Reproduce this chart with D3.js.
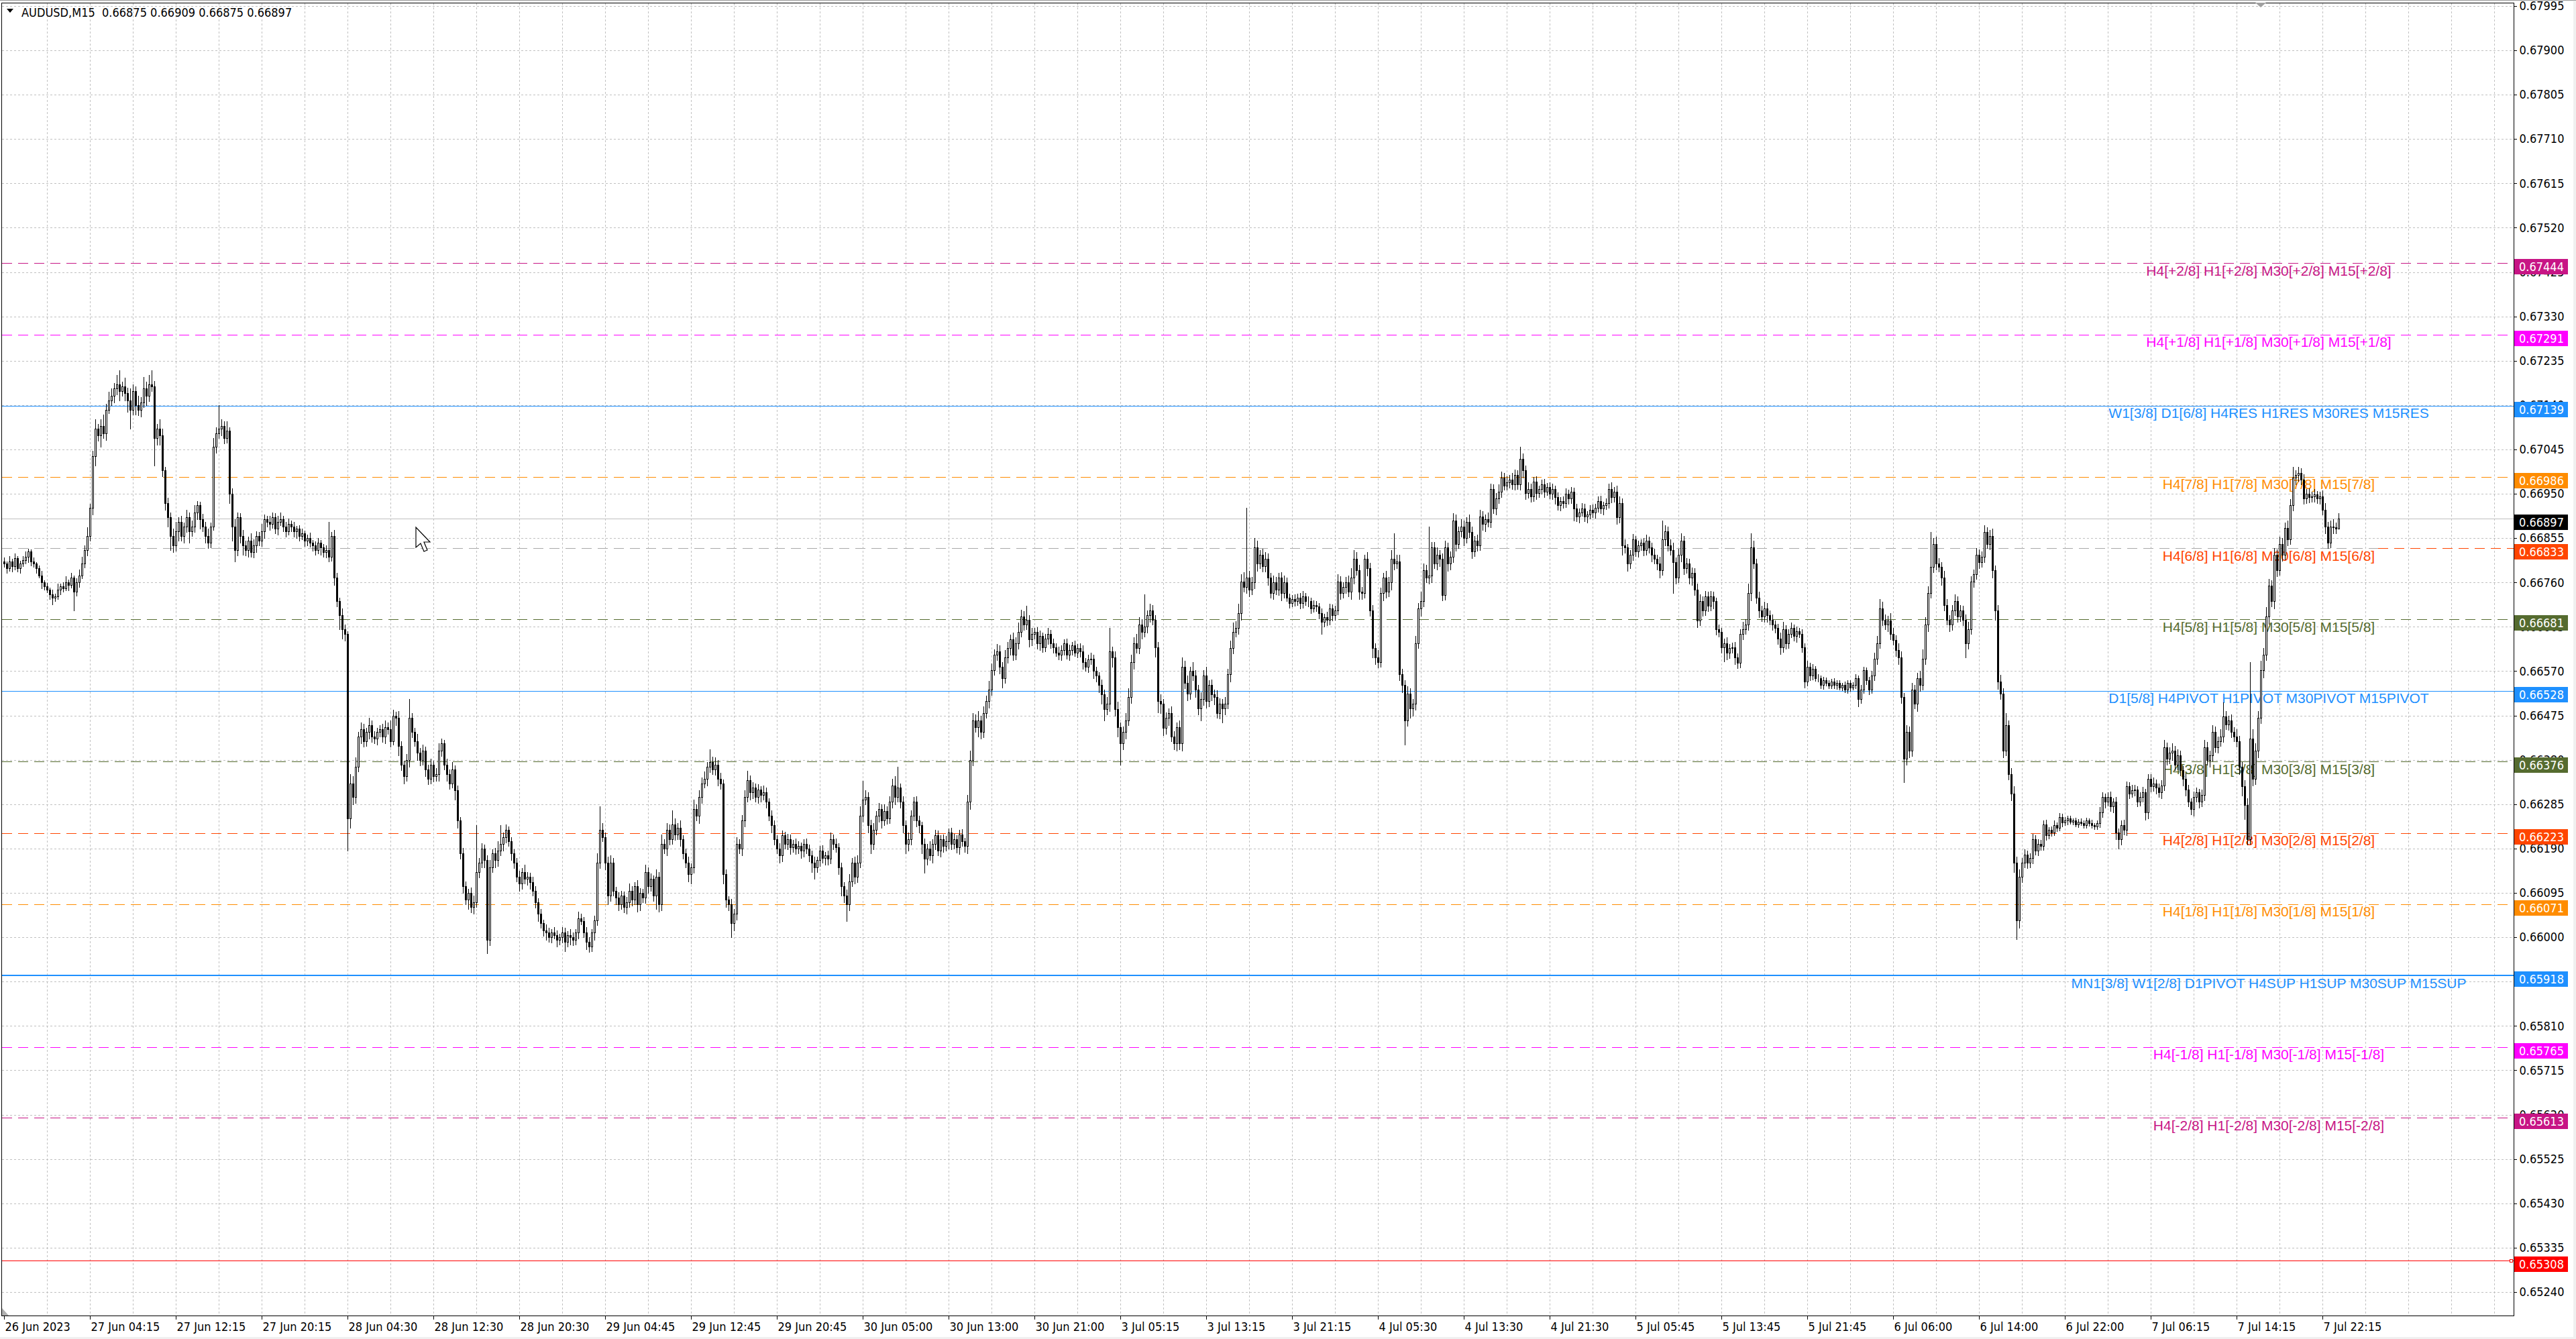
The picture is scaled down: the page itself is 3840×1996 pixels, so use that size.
<!DOCTYPE html>
<html lang="en">
<head>
<meta charset="UTF-8">
<title>AUDUSD,M15</title>
<script src="https://cdn.jsdelivr.net/npm/d3@7"></script>
<style>
  html, body { margin: 0; padding: 0; background: #f0f0f0; overflow: hidden; }
  svg { display: block; }
</style>
</head>
<body>
<svg id="chart" width="3840" height="1996"></svg>
<script>
// ---- data (prices in 1e-5 steps above 0.66000) ----
const symbolTitle = "AUDUSD,M15  0.66875 0.66909 0.66875 0.66897";
const firstOpen = 805;

const closes = [
  800, 790, 805, 795, 812, 790, 800, 808, 815, 826,
  805, 800, 790, 775, 760, 752, 745, 735, 728, 730,
  745, 752, 748, 760, 755, 770, 740, 760, 775, 800,
  830, 860, 920, 1030, 1090, 1075, 1095, 1080, 1130, 1150,
  1160, 1175, 1185, 1170, 1180, 1165, 1150, 1130, 1170, 1140,
  1130, 1145, 1175, 1160, 1185, 1180, 1070, 1090, 1075, 1000,
  930, 900, 860, 840, 870, 890, 860, 880, 900, 870,
  880, 910, 925, 895, 880, 860, 845, 880, 1050, 1080,
  1090, 1095, 1070, 1085, 950, 880, 830, 900, 860, 840,
  830, 850, 825, 840, 860, 850, 870, 895, 890, 885,
  900, 875, 890, 895, 880, 870, 885, 880, 870, 875,
  860, 865, 850, 855, 845, 840, 830, 845, 835, 825,
  830, 815, 860, 770, 720, 690, 660, 650, 255, 330,
  300, 365, 430, 445, 420, 440, 455, 430, 425, 440,
  445, 430, 450, 445, 420, 475, 470, 410, 370, 345,
  380, 470, 440, 420, 395, 380, 400, 360, 340, 370,
  345, 350, 400, 415, 370, 350, 330, 360, 315, 250,
  180, 110, 80, 95, 65, 75, 140, 160, 190, 165,
  -5, 150, 180, 165, 185, 200, 215, 230, 205, 180,
  160, 130, 115, 140, 125, 130, 118, 100, 75, 50,
  30, 15, 10, 0, 10, 5, -5, 0, 10, -10,
  5, 0, -5, 10, 40, 35, 10, -10, -20, 10,
  36, 160, 230, 215, 160, 90, 160, 100, 85, 70,
  90, 65, 75, 100, 80, 110, 70, 95, 85, 140,
  110, 125, 90, 130, 70, 200, 190, 230, 210, 242,
  220, 235, 210, 180, 160, 135, 150, 275, 260, 300,
  330, 340, 365, 375, 360, 370, 340, 330, 135, 80,
  70, 30, 50, 200, 190, 250, 300, 337, 310, 320,
  300, 316, 305, 310, 290, 260, 240, 210, 190, 175,
  218, 200, 210, 193, 200, 190, 195, 185, 200, 190,
  175, 160, 150, 165, 185, 170, 175, 168, 210, 200,
  193, 150, 110, 90, 70, 120, 160, 130, 160, 260,
  295, 300, 240, 200, 230, 260, 275, 250, 270, 255,
  290, 325, 300, 320, 290, 240, 200, 210, 260, 290,
  250, 240, 200, 168, 190, 175, 200, 218, 185, 210,
  195, 205, 225, 200, 210, 193, 220, 205, 195, 290,
  380, 465, 450, 465, 440, 480, 506, 531, 572, 605,
  613, 580, 555, 600, 620, 638, 605, 630, 654, 687,
  670, 680, 638, 650, 654, 630, 645, 621, 640, 650,
  630, 621, 610, 605, 615, 630, 605, 615, 625, 610,
  620, 613, 590, 580, 595, 597, 570, 560, 540, 520,
  489, 500, 613, 600, 489, 450, 415, 440, 465, 514,
  590, 630, 620, 670, 654, 665, 690, 700, 680, 621,
  506, 500, 448, 470, 480, 430, 415, 450, 415, 580,
  545, 522, 570, 560, 530, 490, 510, 560, 506, 540,
  520, 514, 480, 500, 490, 500, 563, 620, 654, 662,
  695, 762, 750, 770, 745, 760, 835, 800, 820, 795,
  810, 770, 737, 760, 745, 770, 737, 760, 728, 716,
  725, 720, 728, 716, 730, 720, 720, 705, 712, 708,
  695, 675, 685, 680, 705, 690, 700, 762, 737, 750,
  760, 740, 770, 810, 786, 740, 737, 810, 790, 700,
  620, 600, 590, 737, 770, 740, 760, 810, 800, 805,
  563, 540, 465, 522, 490, 500, 630, 704, 720, 786,
  770, 775, 835, 800, 820, 810, 733, 835, 800, 815,
  893, 843, 870, 880, 855, 890, 868, 827, 850, 840,
  901, 885, 895, 890, 960, 918, 940, 955, 985, 968,
  975, 980, 970, 990, 970, 1025, 1000, 951, 960, 945,
  976, 951, 960, 970, 955, 965, 950, 960, 943, 926,
  935, 930, 950, 940, 955, 918, 901, 910, 918, 901,
  905, 915, 910, 920, 934, 918, 925, 930, 960, 943,
  955, 900, 930, 840, 835, 800, 820, 852, 827, 840,
  845, 830, 850, 835, 820, 810, 800, 786, 852, 870,
  840, 830, 803, 770, 820, 850, 790, 800, 770, 780,
  745, 679, 720, 700, 730, 710, 730, 720, 660, 654,
  621, 630, 610, 620, 621, 600, 588, 650, 660, 670,
  737, 835, 800, 728, 700, 687, 704, 690, 680, 670,
  662, 640, 621, 660, 630, 650, 662, 645, 655, 650,
  621, 547, 580, 560, 575, 555, 555, 540, 550, 545,
  539, 547, 540, 545, 535, 540, 530, 545, 535, 540,
  555, 510, 530, 572, 550, 531, 560, 597, 630, 704,
  680, 670, 679, 650, 637, 615, 600, 514, 382, 440,
  400, 530, 500, 555, 540, 597, 670, 737, 794, 843,
  800, 794, 770, 712, 680, 670, 700, 720, 687, 700,
  680, 630, 660, 762, 778, 819, 803, 815, 868, 843,
  860, 786, 700, 547, 522, 400, 455, 350, 308, 160,
  36, 130, 160, 177, 160, 170, 210, 185, 200, 195,
  242, 218, 230, 225, 240, 235, 258, 246, 250, 255,
  248, 250, 242, 248, 245, 240, 250, 245, 240, 238,
  244, 267, 300, 290, 300, 280, 290, 225, 210, 240,
  230, 324, 308, 315, 316, 290, 300, 310, 267, 340,
  324, 330, 320, 310, 325, 407, 382, 395, 400, 370,
  390, 358, 340, 316, 290, 275, 300, 310, 290, 305,
  407, 380, 390, 440, 407, 420, 430, 473, 456, 465,
  440, 430, 420, 365, 324, 283, 210, 425, 340, 400,
  470, 572, 605, 687, 753, 720, 819, 786, 843, 819,
  877, 852, 926, 985, 990, 995, 980, 940, 950, 943,
  945, 948, 940, 945, 915, 880, 845, 880, 878, 875,
  897
];

const wickUp = [
  8, 5, 12, 6, 10, 4, 7, 9, 12, 6,
  5, 8, 4, 6, 10, 5, 7, 4, 9, 6,
  12, 5, 8, 14, 6, 10, 5, 9, 12, 15,
  10, 18, 8, 12, 20, 10, 15, 25, 12, 18,
  15, 12, 20, 30, 10, 18, 12, 25, 14, 10,
  20, 12, 25, 15, 20, 30, 12, 10, 20, 15,
  8, 12, 10, 15, 20, 10, 12, 8, 15, 10,
  12, 15, 10, 8, 12, 10, 15, 8, 20, 12,
  50, 15, 10, 20, 8, 12, 15, 10, 8, 12,
  10, 8, 15, 12, 10, 8, 15, 10, 8, 12,
  10, 8, 12, 15, 8, 10, 12, 8, 10, 6,
  8, 10, 6, 8, 12, 6, 8, 10, 6, 8,
  10, 60, 8, 12, 10, 8, 15, 10, 5, 20,
  15, 20, 10, 15, 12, 8, 15, 10, 12, 8,
  10, 12, 15, 10, 20, 12, 8, 15, 10, 8,
  12, 40, 10, 8, 15, 10, 12, 8, 10, 12,
  8, 12, 15, 10, 8, 12, 10, 15, 8, 10,
  8, 12, 10, 8, 12, 15, 100, 10, 12, 8,
  10, 15, 8, 12, 20, 40, 10, 12, 8, 10,
  8, 10, 12, 8, 15, 10, 8, 12, 10, 8,
  10, 8, 12, 10, 8, 12, 10, 8, 12, 10,
  8, 12, 10, 8, 15, 10, 8, 12, 10, 8,
  10, 20, 50, 15, 10, 12, 15, 10, 8, 12,
  10, 8, 12, 15, 10, 8, 12, 10, 8, 15,
  10, 12, 8, 15, 10, 20, 10, 15, 12, 30,
  12, 10, 15, 8, 10, 12, 8, 20, 10, 15,
  12, 15, 10, 28, 12, 15, 10, 12, 8, 10,
  8, 12, 10, 15, 10, 12, 15, 20, 10, 12,
  10, 12, 8, 15, 10, 8, 12, 10, 8, 12,
  10, 8, 12, 10, 8, 12, 10, 8, 10, 12,
  8, 10, 12, 8, 10, 12, 8, 10, 15, 10,
  12, 8, 10, 8, 12, 15, 10, 12, 15, 20,
  40, 15, 10, 12, 15, 10, 12, 10, 15, 10,
  12, 15, 20, 45, 10, 12, 10, 15, 12, 10,
  12, 10, 8, 12, 10, 15, 10, 12, 10, 8,
  10, 12, 8, 10, 12, 8, 10, 12, 8, 15,
  20, 15, 12, 20, 10, 15, 12, 18, 15, 12,
  15, 12, 10, 15, 12, 10, 15, 12, 20, 15,
  12, 30, 10, 12, 8, 10, 12, 8, 10, 12,
  8, 10, 8, 12, 10, 8, 10, 12, 8, 10,
  8, 10, 12, 8, 10, 12, 8, 10, 8, 12,
  10, 15, 50, 10, 12, 15, 10, 12, 15, 20,
  15, 12, 20, 15, 12, 70, 10, 15, 12, 10,
  12, 15, 10, 12, 10, 15, 12, 10, 15, 20,
  12, 15, 10, 20, 12, 10, 15, 12, 20, 10,
  12, 10, 15, 12, 10, 15, 12, 15, 20, 15,
  20, 15, 20, 150, 15, 12, 20, 15, 10, 12,
  15, 12, 10, 15, 12, 10, 12, 15, 10, 8,
  8, 10, 8, 10, 12, 8, 10, 8, 10, 8,
  8, 10, 8, 12, 10, 8, 10, 15, 12, 10,
  12, 15, 20, 20, 15, 12, 10, 10, 15, 12,
  12, 10, 15, 12, 10, 15, 12, 20, 55, 15,
  15, 12, 10, 15, 12, 10, 15, 12, 20, 15,
  12, 105, 12, 12, 15, 10, 12, 15, 10, 12,
  15, 12, 10, 15, 12, 10, 15, 12, 10, 12,
  15, 12, 10, 15, 12, 10, 12, 15, 12, 10,
  12, 10, 15, 12, 10, 25, 12, 10, 15, 12,
  10, 12, 8, 10, 12, 8, 10, 12, 8, 10,
  8, 10, 12, 8, 10, 8, 10, 8, 12, 10,
  8, 10, 12, 8, 10, 12, 8, 10, 12, 15,
  10, 12, 15, 10, 12, 8, 10, 12, 8, 10,
  8, 10, 12, 8, 10, 12, 10, 15, 40, 12,
  10, 12, 15, 10, 12, 15, 10, 12, 10, 12,
  10, 12, 15, 10, 12, 10, 12, 10, 8, 10,
  8, 10, 12, 8, 10, 12, 8, 10, 15, 12,
  20, 30, 15, 10, 12, 10, 15, 12, 10, 12,
  8, 10, 12, 15, 8, 10, 12, 8, 10, 8,
  10, 8, 12, 8, 10, 6, 8, 6, 8, 6,
  5, 6, 8, 5, 6, 5, 8, 6, 5, 6,
  8, 6, 10, 8, 6, 8, 10, 12, 15, 20,
  15, 12, 10, 15, 12, 10, 15, 12, 10, 15,
  12, 15, 10, 12, 15, 20, 15, 15, 74, 12,
  15, 12, 10, 15, 12, 10, 12, 15, 10, 12,
  10, 12, 15, 12, 10, 15, 12, 12, 15, 10,
  12, 15, 10, 12, 15, 12, 25, 10, 12, 15,
  12, 15, 10, 12, 8, 10, 12, 8, 10, 8,
  8, 10, 6, 8, 10, 6, 8, 6, 8, 6,
  6, 5, 6, 5, 6, 5, 6, 5, 6, 5,
  6, 12, 10, 8, 10, 12, 8, 10, 8, 10,
  12, 10, 8, 12, 10, 8, 10, 12, 8, 10,
  10, 12, 8, 10, 12, 15, 10, 12, 15, 10,
  12, 10, 8, 12, 10, 8, 12, 10, 8, 12,
  15, 12, 10, 15, 12, 10, 15, 30, 12, 10,
  12, 10, 15, 12, 10, 12, 15, 165, 20, 15,
  15, 20, 15, 20, 15, 12, 15, 12, 15, 12,
  12, 15, 12, 22, 10, 12, 10, 12, 10, 12,
  10, 12, 8, 10, 12, 15, 10, 12, 15, 10,
  12
];

const wickDn = [
  6, 10, 5, 12, 8, 6, 10, 5, 8, 12,
  8, 6, 10, 5, 12, 8, 6, 10, 15, 8,
  6, 10, 8, 5, 12, 6, 40, 8, 10, 6,
  8, 12, 10, 15, 20, 12, 25, 10, 15, 8,
  10, 15, 12, 20, 10, 15, 25, 40, 10, 20,
  12, 15, 10, 20, 12, 10, 60, 15, 20, 12,
  15, 20, 30, 15, 12, 20, 10, 15, 12, 25,
  10, 12, 15, 20, 10, 15, 12, 10, 8, 12,
  10, 15, 12, 10, 20, 30, 25, 12, 15, 20,
  12, 15, 10, 12, 15, 10, 12, 15, 10, 12,
  8, 10, 12, 8, 10, 12, 8, 10, 12, 15,
  10, 8, 12, 10, 8, 12, 10, 8, 15, 10,
  12, 10, 8, 15, 12, 30, 20, 15, 70, 20,
  15, 12, 10, 15, 12, 10, 15, 12, 10, 12,
  10, 12, 15, 10, 12, 8, 15, 20, 12, 15,
  10, 15, 12, 10, 15, 12, 10, 15, 12, 10,
  12, 10, 15, 12, 10, 15, 12, 10, 20, 15,
  12, 15, 10, 20, 12, 15, 10, 12, 10, 15,
  30, 12, 10, 15, 12, 10, 15, 12, 10, 15,
  12, 10, 15, 12, 10, 12, 15, 10, 12, 15,
  10, 12, 15, 10, 12, 8, 15, 10, 12, 20,
  10, 15, 12, 10, 12, 8, 10, 15, 12, 10,
  15, 10, 12, 10, 15, 20, 12, 10, 15, 12,
  10, 12, 15, 10, 12, 10, 15, 12, 10, 12,
  15, 10, 12, 30, 15, 12, 10, 15, 12, 10,
  12, 10, 15, 12, 10, 15, 20, 12, 10, 15,
  12, 10, 15, 12, 10, 12, 15, 12, 20, 15,
  12, 30, 15, 12, 10, 15, 12, 10, 15, 12,
  10, 12, 15, 10, 12, 10, 15, 12, 10, 15,
  12, 10, 12, 15, 10, 12, 10, 15, 12, 10,
  12, 20, 25, 10, 12, 10, 15, 12, 10, 12,
  10, 15, 20, 15, 35, 12, 10, 15, 12, 10,
  12, 10, 15, 20, 12, 10, 12, 15, 10, 12,
  10, 12, 15, 10, 12, 15, 20, 15, 12, 10,
  12, 15, 20, 30, 12, 10, 15, 12, 10, 12,
  12, 10, 15, 12, 10, 12, 15, 10, 12, 15,
  15, 12, 10, 20, 15, 12, 10, 15, 12, 10,
  12, 15, 20, 10, 12, 15, 12, 10, 12, 10,
  12, 10, 15, 12, 10, 12, 15, 10, 8, 12,
  10, 12, 8, 10, 12, 10, 8, 12, 10, 8,
  10, 12, 15, 10, 12, 10, 15, 12, 15, 20,
  25, 12, 15, 20, 15, 20, 45, 12, 15, 10,
  12, 15, 10, 12, 15, 10, 12, 15, 10, 20,
  25, 20, 15, 12, 15, 10, 12, 15, 12, 15,
  12, 15, 12, 10, 15, 12, 25, 12, 15, 12,
  12, 15, 10, 12, 30, 12, 10, 15, 12, 10,
  12, 15, 10, 12, 15, 10, 12, 15, 10, 12,
  12, 15, 10, 12, 10, 12, 15, 10, 8, 10,
  8, 10, 8, 12, 10, 8, 12, 10, 8, 10,
  12, 25, 10, 12, 10, 12, 10, 8, 12, 10,
  12, 10, 15, 12, 10, 15, 12, 10, 15, 12,
  20, 15, 12, 10, 15, 12, 10, 15, 12, 10,
  12, 15, 52, 12, 20, 15, 12, 10, 15, 12,
  10, 12, 15, 10, 12, 15, 12, 10, 15, 12,
  12, 15, 10, 12, 15, 10, 12, 15, 10, 12,
  10, 12, 15, 10, 12, 10, 12, 10, 12, 10,
  10, 12, 10, 12, 10, 12, 15, 12, 10, 12,
  10, 12, 8, 10, 12, 8, 10, 12, 15, 10,
  12, 10, 8, 12, 10, 25, 10, 12, 8, 10,
  12, 8, 10, 12, 8, 10, 12, 8, 10, 12,
  10, 15, 12, 20, 12, 15, 10, 12, 10, 12,
  10, 12, 10, 12, 15, 10, 12, 15, 10, 12,
  12, 10, 65, 12, 10, 15, 12, 10, 12, 15,
  12, 15, 10, 12, 10, 12, 10, 15, 12, 10,
  12, 30, 15, 12, 10, 15, 12, 10, 12, 10,
  12, 15, 10, 12, 15, 10, 12, 15, 10, 12,
  10, 12, 15, 10, 12, 10, 8, 10, 12, 8,
  10, 12, 8, 10, 8, 6, 8, 6, 8, 6,
  6, 5, 6, 8, 5, 6, 5, 6, 8, 5,
  6, 15, 8, 6, 8, 10, 8, 10, 12, 10,
  12, 10, 15, 12, 10, 12, 15, 12, 50, 12,
  15, 12, 10, 15, 12, 10, 12, 15, 10, 12,
  12, 10, 15, 12, 10, 15, 12, 10, 12, 10,
  12, 30, 12, 10, 12, 10, 12, 10, 12, 10,
  12, 15, 20, 15, 12, 15, 10, 12, 15, 20,
  40, 15, 12, 10, 12, 10, 12, 8, 10, 8,
  8, 10, 6, 8, 6, 8, 6, 8, 6, 8,
  5, 6, 5, 6, 5, 6, 5, 6, 5, 6,
  6, 8, 10, 12, 8, 10, 12, 15, 20, 12,
  10, 12, 10, 8, 12, 10, 8, 10, 15, 12,
  12, 10, 12, 10, 12, 10, 12, 10, 15, 12,
  10, 12, 15, 12, 10, 12, 15, 10, 12, 10,
  12, 10, 15, 12, 10, 12, 10, 12, 10, 12,
  12, 10, 12, 15, 20, 30, 12, 10, 15, 12,
  15, 12, 15, 12, 15, 12, 15, 12, 10, 12,
  10, 12, 10, 12, 15, 12, 10, 12, 10, 12,
  10, 12, 10, 12, 10, 15, 12, 10, 12, 10,
  0
];

const timeLabels = [
  "26 Jun 2023", "27 Jun 04:15", "27 Jun 12:15", "27 Jun 20:15", "28 Jun 04:30",
  "28 Jun 12:30", "28 Jun 20:30", "29 Jun 04:45", "29 Jun 12:45", "29 Jun 20:45",
  "30 Jun 05:00", "30 Jun 13:00", "30 Jun 21:00", "3 Jul 05:15", "3 Jul 13:15",
  "3 Jul 21:15", "4 Jul 05:30", "4 Jul 13:30", "4 Jul 21:30", "5 Jul 05:45",
  "5 Jul 13:45", "5 Jul 21:45", "6 Jul 06:00", "6 Jul 14:00", "6 Jul 22:00",
  "7 Jul 06:15", "7 Jul 14:15", "7 Jul 22:15"
];

const priceTicks = [
  0.67995, 0.67900, 0.67805, 0.67710, 0.67615, 0.67520, 0.67425, 0.67330, 0.67235, 0.67140,
  0.67045, 0.66950, 0.66855, 0.66760, 0.66665, 0.66570, 0.66475, 0.66380, 0.66285, 0.66190,
  0.66095, 0.66000, 0.65905, 0.65810, 0.65715, 0.65620, 0.65525, 0.65430, 0.65335, 0.65240
];

const levelPrices = [0.67444, 0.67291, 0.67139, 0.66986, 0.66833, 0.66681, 0.66528,
                     0.66376, 0.66223, 0.66071, 0.65918, 0.65765, 0.65613];
const levelNames = [
  "H4[+2/8] H1[+2/8] M30[+2/8] M15[+2/8]",
  "H4[+1/8] H1[+1/8] M30[+1/8] M15[+1/8]",
  "W1[3/8] D1[6/8] H4RES H1RES M30RES M15RES",
  "H4[7/8] H1[7/8] M30[7/8] M15[7/8]",
  "H4[6/8] H1[6/8] M30[6/8] M15[6/8]",
  "H4[5/8] H1[5/8] M30[5/8] M15[5/8]",
  "D1[5/8] H4PIVOT H1PIVOT M30PIVOT M15PIVOT",
  "H4[3/8] H1[3/8] M30[3/8] M15[3/8]",
  "H4[2/8] H1[2/8] M30[2/8] M15[2/8]",
  "H4[1/8] H1[1/8] M30[1/8] M15[1/8]",
  "MN1[3/8] W1[2/8] D1PIVOT H4SUP H1SUP M30SUP M15SUP",
  "H4[-1/8] H1[-1/8] M30[-1/8] M15[-1/8]",
  "H4[-2/8] H1[-2/8] M30[-2/8] M15[-2/8]"
];
const bidPrice = 0.66897;
const stopPrice = 0.65308;

// ---- styles ----
const levelColors = ["#C71585", "#FF00FF", "#1E90FF", "#FF8C00", "#FF4500", "#556B2F", "#1E90FF",
                     "#556B2F", "#FF4500", "#FF8C00", "#1E90FF", "#FF00FF", "#C71585"];
const axisFont = '"DejaVu Sans Condensed", "DejaVu Sans", sans-serif';
const labelFont = '"Liberation Sans", Arial, sans-serif';

const plot = { left: 2.5, right: 3747.5, top: 4.5, bottom: 1961.5 };

const x = d3.scaleLinear().domain([0, 870]).range([6, 3486]);
const y = d3.scaleLinear().domain([0.651897, 0.680013]).range([1961, 4.5]);
const crisp = v => Math.round(v) + 0.5;

const bars = [];
let prevClose = firstOpen;
closes.forEach((c, i) => {
  const o = prevClose;
  prevClose = c;
  bars.push({
    i: i,
    o: 0.66 + o / 1e5,
    c: 0.66 + c / 1e5,
    h: 0.66 + (Math.max(o, c) + wickUp[i]) / 1e5,
    l: 0.66 + (Math.min(o, c) - wickDn[i]) / 1e5
  });
});

const svg = d3.select("#chart");

// window background
svg.append("rect").attr("x", 0).attr("y", 0).attr("width", 3840).attr("height", 1996).attr("fill", "#f0f0f0");
svg.append("rect").attr("x", 0).attr("y", 2).attr("width", 3836).attr("height", 1991).attr("fill", "#fff");
svg.append("line").attr("x1", 0).attr("x2", 3840).attr("y1", 0.5).attr("y2", 0.5).attr("stroke", "#a0a0a0");

// grid
const grid = svg.append("g").attr("shape-rendering", "crispEdges");
grid.selectAll("line.h").data(priceTicks).join("line")
  .attr("x1", plot.left).attr("x2", plot.right)
  .attr("y1", d => crisp(y(d))).attr("y2", d => crisp(y(d)))
  .attr("stroke", "#c0c0c0").attr("stroke-dasharray", "3,3");
grid.selectAll("line.v").data(d3.range(16, 936, 16)).join("line")
  .attr("x1", d => crisp(x(d))).attr("x2", d => crisp(x(d)))
  .attr("y1", plot.top).attr("y2", plot.bottom)
  .attr("stroke", "#c0c0c0").attr("stroke-dasharray", "3,3");

// murrey levels
const lv = svg.append("g").attr("shape-rendering", "crispEdges");
levelPrices.forEach((p, k) => {
  const col = levelColors[k];
  const solid = col === "#1E90FF";
  const yy = crisp(y(p));
  if (k === 4) {
    lv.append("line").attr("x1", plot.left).attr("x2", 3545).attr("y1", yy).attr("y2", yy)
      .attr("stroke", "#a8a8a8").attr("stroke-dasharray", "15,9");
    lv.append("line").attr("x1", 3545).attr("x2", plot.right).attr("y1", yy).attr("y2", yy)
      .attr("stroke", col).attr("stroke-dasharray", "15,9");
  } else {
    lv.append("line").attr("x1", plot.left).attr("x2", plot.right)
      .attr("y1", p === 0.65918 ? Math.round(y(p)) : yy).attr("y2", p === 0.65918 ? Math.round(y(p)) : yy)
      .attr("stroke", col)
      .attr("stroke-width", p === 0.65918 ? 2 : 1)
      .attr("stroke-dasharray", solid ? null : "15,9");
  }
});
// bid and stop lines
lv.append("line").attr("x1", plot.left).attr("x2", plot.right)
  .attr("y1", crisp(y(bidPrice))).attr("y2", crisp(y(bidPrice))).attr("stroke", "#c0c0c0");
lv.append("line").attr("x1", plot.left).attr("x2", plot.right)
  .attr("y1", crisp(y(stopPrice))).attr("y2", crisp(y(stopPrice))).attr("stroke", "#ff0000");
lv.append("rect").attr("x", 3741.5).attr("y", crisp(y(stopPrice)) - 2).attr("width", 4).attr("height", 4)
  .attr("fill", "#fff").attr("stroke", "#ff0000");

// level names
svg.append("g").selectAll("text").data(levelPrices).join("text")
  .attr("x", x(844))
  .attr("y", d => y(d) + 11)
  .attr("dy", "0.35em")
  .attr("text-anchor", "middle")
  .attr("font-family", labelFont)
  .attr("font-size", 21)
  .attr("fill", (d, k) => levelColors[k])
  .text((d, k) => levelNames[k]);

// candles
const cg = svg.append("g").attr("shape-rendering", "crispEdges");
cg.selectAll("line").data(bars).join("line")
  .attr("x1", d => Math.round(x(d.i)) + 0.5).attr("x2", d => Math.round(x(d.i)) + 0.5)
  .attr("y1", d => Math.round(y(d.h))).attr("y2", d => Math.round(y(d.l)) + 1)
  .attr("stroke", "#000");
cg.selectAll("rect").data(bars).join("rect")
  .attr("x", d => Math.round(x(d.i)) - 0.5)
  .attr("width", 2)
  .attr("y", d => Math.round(y(Math.max(d.o, d.c))) + 0.5)
  .attr("height", d => Math.round(y(Math.min(d.o, d.c))) - Math.round(y(Math.max(d.o, d.c))))
  .attr("fill", d => d.c >= d.o ? "#fff" : "#000")
  .attr("stroke", "#000");

// frame
svg.append("rect").attr("x", plot.left).attr("y", plot.top)
  .attr("width", plot.right - plot.left).attr("height", plot.bottom - plot.top)
  .attr("fill", "none").attr("stroke", "#000").attr("shape-rendering", "crispEdges");

// price axis
const yAxisG = svg.append("g").attr("transform", `translate(${plot.right},0)`)
  .call(d3.axisRight(y).tickValues(priceTicks).tickFormat(d3.format(".5f")).tickSize(4).tickPadding(4));
yAxisG.select(".domain").remove();
yAxisG.attr("font-family", axisFont).attr("font-size", 18);
yAxisG.selectAll("line").attr("shape-rendering", "crispEdges");

// time axis
const xAxisG = svg.append("g").attr("transform", `translate(0,${plot.bottom})`)
  .call(d3.axisBottom(x).tickValues(timeLabels.map((t, k) => k * 32))
    .tickFormat((d, k) => timeLabels[k]).tickSize(5).tickPadding(5));
xAxisG.select(".domain").remove();
xAxisG.attr("font-family", axisFont).attr("font-size", 18);
xAxisG.selectAll("text").attr("text-anchor", "start").attr("x", 1);
xAxisG.selectAll("line").attr("shape-rendering", "crispEdges");

// price tags on the axis
const tagPrices = levelPrices.concat([bidPrice, stopPrice]);
const tagColors = levelColors.concat(["#000000", "#ff0000"]);
const tags = svg.append("g").selectAll("g").data(tagPrices).join("g")
  .attr("transform", d => `translate(3748,${Math.round(y(d))})`);
tags.append("rect").attr("x", 0).attr("y", -6).attr("width", 80).attr("height", 23)
  .attr("fill", (d, k) => tagColors[k]);
tags.append("text").attr("x", 7).attr("y", 5.5).attr("dy", "0.35em")
  .attr("font-family", axisFont).attr("font-size", 18).attr("fill", "#fff")
  .text(d => d3.format(".5f")(d));

// title
svg.append("path").attr("d", "M10,13 L20,13 L15,19 Z").attr("fill", "#000");
svg.append("text").attr("x", 32).attr("y", 25)
  .attr("font-family", axisFont).attr("font-size", 18).attr("fill", "#000")
  .attr("xml:space", "preserve").style("white-space", "pre")
  .text(symbolTitle);

// small markers
svg.append("path").attr("d", "M3362,4 L3378,4 L3370,11 Z").attr("fill", "#a0a0a0");
svg.append("path").attr("d", "M3,1950 L3,1961 L13,1961 Z").attr("fill", "#b0b0b0");

// mouse pointer
svg.append("path")
  .attr("transform", "translate(620,786)")
  .attr("d", "M0,0 L0,30 L7,24 L12,36 L17,34 L12,22 L21,22 Z")
  .attr("fill", "#fff").attr("stroke", "#000").attr("stroke-width", 1.2);
</script>
</body>
</html>
